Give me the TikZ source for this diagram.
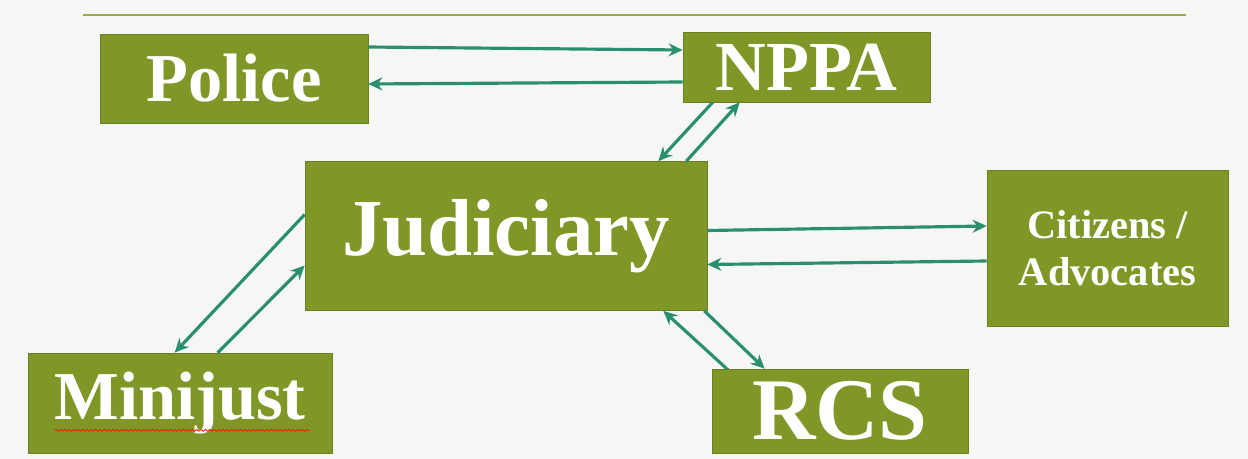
\documentclass[tikz,border=0pt]{standalone}
\usepackage{fontspec}
\setmainfont{Liberation Serif}
\usepackage{xcolor}
\usetikzlibrary{arrows.meta, decorations.pathmorphing}
\definecolor{boxolive}{RGB}{127,151,39}
\definecolor{linkteal}{RGB}{42,142,112}
\definecolor{rulegreen}{RGB}{150,170,70}
\definecolor{paper}{RGB}{246,246,245}
\begin{document}
\begin{tikzpicture}[
  x=0.02cm, y=-0.02cm,
  agency/.style={rectangle, fill=boxolive, draw=boxolive!85!black, line width=0.4pt,
    text=white, inner sep=0pt, align=center},
  link/.style={linkteal, line width=1.8pt, -{Stealth[length=2.8mm, width=2.6mm]}}
]
\fill[paper] (0,0) rectangle (1248,459);
\useasboundingbox (0,0) rectangle (1248,459);
\draw[rulegreen, line width=0.8pt] (83,15) -- (1186,15);
\draw[linkteal, line width=1.8pt] (727,380) -- (727,368);
\node[agency, minimum width=5.36cm, minimum height=1.78cm,
  font=\bfseries\fontsize{39}{40}\selectfont] (police) at (234,78.5) {Police};
\node[agency, minimum width=4.94cm, minimum height=1.40cm,
  font=\bfseries\fontsize{40}{40}\selectfont] (nppa) at (806.5,67) {NPPA};
\node[agency, minimum width=8.04cm, minimum height=2.98cm,
  font=\bfseries\fontsize{46}{46}\selectfont] (judiciary) at (506,236) {Judiciary};
\node[agency, minimum width=4.82cm, minimum height=3.12cm,
  font=\bfseries\fontsize{23}{27}\selectfont] (citizens) at (1107.5,248) {Citizens /\\ Advocates};
\node[agency, minimum width=6.08cm, minimum height=2.0cm,
  font=\bfseries\fontsize{39}{40}\selectfont] (minijust) at (180,403) {Minijust};
\node[agency, minimum width=5.12cm, minimum height=1.68cm,
  font=\bfseries\fontsize{50}{50}\selectfont] (rcs) at (840,411) {RCS};
\draw[red!80!orange, line width=0.5pt, decorate,
  decoration={snake, amplitude=0.5pt, segment length=2.5pt}]
  ([xshift=0.54cm, yshift=0.46cm]minijust.south west) -- ([xshift=5.64cm, yshift=0.46cm]minijust.south west);
\draw[link] ([yshift=0.63cm]police.east) -- ([yshift=0.34cm]nppa.west);
\draw[link] ([yshift=-0.30cm]nppa.west) -- ([yshift=-0.11cm]police.east);
\draw[link] ([xshift=0.60cm]nppa.south west) -- ([xshift=-0.98cm]judiciary.north east);
\draw[link] ([xshift=-0.42cm]judiciary.north east) -- ([xshift=1.14cm]nppa.south west);
\draw[link] ([yshift=0.43cm]judiciary.west) -- ([xshift=2.94cm]minijust.north west);
\draw[link] ([xshift=3.80cm]minijust.north west) -- ([yshift=-0.59cm]judiciary.west);
\draw[link] ([yshift=0.11cm]judiciary.east) -- ([yshift=0.44cm]citizens.west);
\draw[link] ([yshift=-0.26cm]citizens.west) -- ([yshift=-0.57cm]judiciary.east);
\draw[link] ([xshift=-0.06cm]judiciary.south east) -- ([xshift=1.06cm]rcs.north west);
\draw[link] ([xshift=0.30cm]rcs.north west) -- ([xshift=-0.88cm]judiciary.south east);
\end{tikzpicture}
\end{document}
